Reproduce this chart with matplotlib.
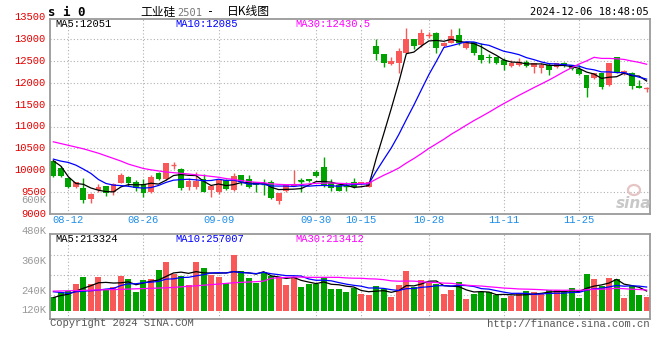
import numpy as np
import pandas as pd
import matplotlib
matplotlib.use('Agg')
import matplotlib.pyplot as plt
from matplotlib.patches import Ellipse

# ---- dane ocitane s grafa (si0, dnevne svijece) ----
opens = [10216, 10050, 9827, 9621, 9598, 9339, 9545, 9637, 9492, 9713,
         9835, 9728, 9682, 9507, 9926, 9800, 10110, 10026, 9622, 9606,
         9797, 9545, 9507, 9774, 9545, 9888, 9797, 9721, 9698, 9736,
         9301, 9530, 9650, 9774, 9789, 9964, 10079, 9700, 9660, 9645,
         9736, 9683, 9621, 12840, 12657, 12436, 12443, 12687, 12992, 12863,
         13075, 13130, 12840, 12901, 13092, 12787, 12940, 12634, 12596, 12596,
         12520, 12390, 12405, 12466, 12352, 12330, 12405, 12352, 12443, 12405,
         12306, 12176, 12100, 12215, 11947, 12596, 12199, 12230, 11932, 11860]
highs = [10240, 10100, 9850, 9721, 9820, 9480, 9680, 9637, 9700, 9940,
         9860, 9770, 9790, 9890, 9960, 10170, 10190, 10056, 9812, 9950,
         9911, 9660, 9790, 9790, 9942, 9890, 9890, 9736, 9790, 9774,
         9480, 9660, 10000, 9812, 9800, 10000, 10292, 9800, 9665, 9736,
         9812, 9736, 9750, 12992, 12657, 12580, 12787, 13250, 12992, 13230,
         13168, 13168, 12940, 13230, 13260, 12940, 12940, 12901, 12660, 12596,
         12558, 12520, 12558, 12520, 12443, 12443, 12443, 12443, 12482, 12405,
         12405, 12176, 12215, 12215, 12443, 12596, 12290, 12253, 12062, 11910]
lows = [9850, 9840, 9600, 9600, 9260, 9250, 9510, 9420, 9430, 9700,
        9650, 9530, 9380, 9480, 9770, 9780, 10030, 9545, 9560, 9568,
        9492, 9393, 9454, 9545, 9530, 9660, 9600, 9507, 9431, 9340,
        9225, 9500, 9640, 9507, 9740, 9850, 9621, 9530, 9520, 9530,
        9600, 9670, 9610, 12520, 12367, 12400, 12230, 12672, 12764, 12825,
        13015, 12687, 12825, 12901, 12860, 12764, 12634, 12459, 12459, 12420,
        12291, 12367, 12382, 12367, 12230, 12215, 12176, 12330, 12367, 12290,
        12176, 11681, 12080, 11850, 11925, 12230, 12176, 11850, 11871, 11800]
closes = [9873, 9860, 9621, 9721, 9316, 9454, 9606, 9469, 9682, 9888,
          9713, 9583, 9484, 9850, 9789, 10155, 10120, 9599, 9759, 9759,
          9507, 9637, 9774, 9568, 9873, 9736, 9622, 9660, 9683, 9355,
          9469, 9652, 9680, 9750, 9750, 9873, 9660, 9600, 9530, 9630,
          9621, 9736, 9736, 12657, 12443, 12497, 12726, 13000, 12840, 13130,
          13085, 12787, 12901, 13069, 12901, 12940, 12672, 12520, 12558, 12443,
          12405, 12443, 12482, 12382, 12443, 12405, 12291, 12443, 12405, 12306,
          12199, 11871, 12215, 11909, 12443, 12253, 12276, 11925, 11871, 11880]
# volumen u tisucama
volumes = [152, 206, 213, 289, 361, 289, 361, 235, 253, 375,
           339, 206, 332, 343, 440, 531, 397, 375, 278, 531,
           466, 386, 368, 296, 596, 430, 357, 303, 422, 375,
           368, 278, 361, 260, 285, 285, 368, 235, 235, 206,
           242, 180, 170, 267, 231, 152, 278, 433, 253, 332,
           303, 289, 180, 224, 310, 126, 180, 199, 199, 170,
           141, 159, 188, 213, 206, 180, 224, 224, 206, 249,
           140, 400, 340, 270, 350, 340, 140, 265, 175, 150]

# pocetni dijelovi MA linija (prije pocetka prikazanog razdoblja)
ma5_head = [10216, 10094, 9850, 9698]
ma10_head = [10254, 10209, 10178, 10117, 10026, 9927, 9789, 9698, 9660]
ma30_head = [10650, 10610, 10570, 10530, 10490, 10440, 10390, 10330, 10270, 10210,
             10140, 10090, 10040, 10010, 9985, 9960, 9945, 9930, 9915, 9895,
             9880, 9860, 9840, 9810, 9790, 9765, 9740, 9725, 9715]
vma5_head = [144, 166, 180, 213]
vma10_head = [206, 199, 188, 206, 213, 217, 224, 235, 242]
vma30_head = [213, 215, 217, 219, 221, 224, 226, 228, 230, 232,
              235, 238, 240, 243, 246, 249, 253, 259, 265, 270,
              277, 283, 289, 296, 303, 307, 311, 315, 320]

holidays = ['2024-09-16', '2024-09-17', '2024-10-01', '2024-10-02',
            '2024-10-03', '2024-10-04', '2024-10-07']
label_dates = ['2024-08-12', '2024-08-26', '2024-09-09', '2024-09-30',
               '2024-10-15', '2024-10-28', '2024-11-11', '2024-11-25']
price_ticks = [13500, 13000, 12500, 12000, 11500, 11000, 10500, 10000, 9500, 9000]
vol_tick_labels = ['600K', '480K', '360K', '240K', '120K']
vol_tick_pix = [200, 231, 261, 291, 310]
ma_legend = ['MA5:12051', 'MA10:12085', 'MA30:12430.5']
vma_legend = ['MA5:213324', 'MA10:257007', 'MA30:213412']

# trgovacki dani
days = pd.bdate_range('2024-08-08', '2024-12-06')
days = days[~days.isin(pd.to_datetime(holidays))]
label_idx = [days.get_loc(pd.Timestamp(d)) for d in label_dates]

RED = '#f85858'
GREEN = '#00a200'
MONO = 'DejaVu Sans Mono'
PIX = ['Liberation Mono', 'DejaVu Sans Mono']


def moving(vals, n, head):
    m = pd.Series(vals, dtype=float).rolling(n).mean().to_numpy()
    m[:n - 1] = head
    return m


W, H = 660, 360
fig = plt.figure(figsize=(W / 100, H / 100), dpi=100)
fig.patch.set_facecolor('white')


def box(l, t, r, b):
    return [l / W, 1 - b / H, (r - l) / W, (b - t) / H]


def fy(py):
    return 1 - py / H


ax = fig.add_axes(box(50, 19, 650, 214))
axv = fig.add_axes(box(50, 234, 650, 319))

x = np.arange(len(closes))
o, h, l, c = (np.array(a, dtype=float) for a in (opens, highs, lows, closes))
col = np.where(c >= o, RED, GREEN)

for a in (ax, axv):
    a.set_xlim(-0.45, len(closes) - 0.55)
    a.set_xticks([])
    a.set_yticks([])
    for s in a.spines.values():
        s.set_color('#9a9a9a')
        s.set_linewidth(1.3)
    for i in label_idx:
        a.axvline(i, color='#b0b0b0', lw=0.8, ls=(0, (1, 2)), zorder=0)

# cijena
ax.set_ylim(9000, 13458)
for p in price_ticks[1:-1]:
    ax.axhline(p, color='#b0b0b0', lw=0.8, ls=(0, (1, 2)), zorder=0)
ax.vlines(x, l, h, colors=col, lw=1, zorder=2)
body = np.abs(c - o)
ax.bar(x, body, bottom=np.minimum(o, c), width=0.78, color=col, lw=0, zorder=2)
doji = body < 25
ax.hlines(c[doji], x[doji] - 0.39, x[doji] + 0.39, colors=col[doji], lw=1, zorder=2)

ax.plot(x, moving(closes, 5, ma5_head), color='black', lw=0.9, zorder=3)
ax.plot(x, moving(closes, 10, ma10_head), color='#0000ff', lw=0.9, zorder=3)
ax.plot(x, moving(closes, 30, ma30_head), color='#ff00ff', lw=0.9, zorder=3)

# sina vodeni zig
ax.add_patch(Ellipse((634 / W, fy(190)), 12 / W, 10 / H, transform=fig.transFigure,
                     fill=False, ec='#e6c4c4', lw=1.6, zorder=1))
fig.text(634 / W, fy(203), 'sina', ha='center', va='center', fontsize=11,
         fontweight='bold', style='italic', color='#c8c8c8')

# volumen
v = np.array(volumes, dtype=float)
axv.set_ylim(-86.6, 827)
for g in [603, 387, 170]:
    axv.axhline(g, color='#b0b0b0', lw=0.8, ls=(0, (1, 2)), zorder=0)
axv.bar(x, v, width=0.8, color=col, lw=0, zorder=2)
axv.plot(x, moving(volumes, 5, vma5_head), color='black', lw=0.9, zorder=3)
axv.plot(x, moving(volumes, 10, vma10_head), color='#0000ff', lw=0.9, zorder=3)
axv.plot(x, moving(volumes, 30, vma30_head), color='#ff00ff', lw=0.9, zorder=3)

# tekstovi osi
for p in price_ticks:
    py = 39 + (13000 - p) * 21.85 / 500
    fig.text(46 / W, fy(py), str(p), ha='right', va='center',
             color='#e60000', family=PIX, fontsize=7.6)
for t, py in zip(vol_tick_labels, vol_tick_pix):
    fig.text(46 / W, fy(py), t, ha='right', va='center',
             color='#999999', family=PIX, fontsize=7.6)
for i, d in zip(label_idx, label_dates):
    px = ax.transData.transform((i, 9000))[0] / W
    fig.text(px, fy(220), d[5:], ha='center', va='center',
             color='#1f8ee8', family=PIX, fontsize=7.6)

legend_cols = ['black', '#0000ff', '#ff00ff']
for t, cc, px in zip(ma_legend, legend_cols, [55, 175, 295]):
    fig.text(px / W, fy(24), t, ha='left', va='center', color=cc, family=PIX, fontsize=7.6)
for t, cc, px in zip(vma_legend, legend_cols, [55, 175, 295]):
    fig.text(px / W, fy(238.5), t, ha='left', va='center', color=cc, family=PIX, fontsize=7.6)

# naslov
fig.text(48 / W, fy(12), 's i 0', ha='left', va='center', family=MONO,
         fontsize=9, fontweight='bold')
cjk = ['Noto Sans CJK SC', 'DejaVu Sans']
fig.text(140 / W, fy(12), '工业硅', ha='left', va='center', family=cjk, fontsize=8.5)
fig.text(177 / W, fy(12.5), '2501', ha='left', va='center', family=MONO,
         fontsize=7.5, color='#777777')
fig.text(207 / W, fy(12), '-', ha='left', va='center', family=MONO, fontsize=8.5)
fig.text(227 / W, fy(12), '日K线图', ha='left', va='center', family=cjk, fontsize=8.5)
fig.text(649 / W, fy(12), '2024-12-06 18:48:05', ha='right', va='center',
         family=MONO, fontsize=7.5)

fig.text(50 / W, fy(323.5), 'Copyright 2024 SINA.COM', ha='left', va='center',
         family=PIX, fontsize=7.6, color='#555555')
fig.text(650 / W, fy(324), 'http://finance.sina.com.cn', ha='right', va='center',
         family=PIX, fontsize=7.6, color='#555555')

fig.savefig('out.png', dpi=100)
